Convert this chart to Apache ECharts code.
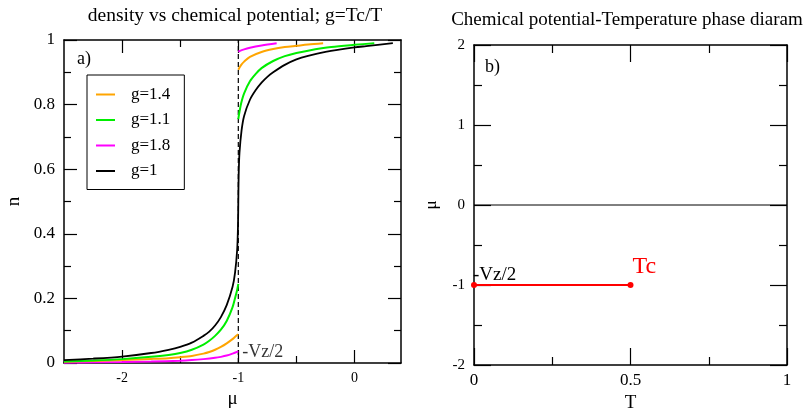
<!DOCTYPE html>
<html>
<head>
<meta charset="utf-8">
<script src="https://cdn.jsdelivr.net/npm/echarts@6/dist/echarts.min.js"></script>
<style>html,body{margin:0;padding:0;background:#fff}#c{width:810px;height:414px}</style>
</head>
<body>
<div id="c"></div>
<script>
// ---------- data: panel a) density n vs chemical potential mu ----------
var g1Mu  = [-2.5,-2.25,-2.0,-1.75,-1.6,-1.5,-1.4,-1.3,-1.25,-1.2,-1.15,-1.1,-1.05,-1.028,-1.01,-1.003,-1.0,
             -0.997,-0.99,-0.972,-0.95,-0.9,-0.85,-0.8,-0.75,-0.7,-0.6,-0.5,-0.4,-0.25,0.0,0.1,0.33];
var g1N   = [0.009,0.0136,0.02,0.031,0.041,0.05,0.063,0.084,0.097,0.116,0.142,0.179,0.235,0.28,0.35,0.42,0.5,
             0.58,0.65,0.72,0.765,0.815,0.845,0.868,0.886,0.9,0.923,0.94,0.951,0.963,0.977,0.981,0.99];

var g11LeftMu  = [-2.5,-2.25,-2.0,-1.75,-1.6,-1.5,-1.4,-1.3,-1.25,-1.2,-1.15,-1.1,-1.05,-1.025,-1.01,-1.0];
var g11LeftN   = [0.005,0.0078,0.012,0.019,0.025,0.031,0.041,0.057,0.069,0.084,0.103,0.13,0.172,0.205,0.226,0.245];
var g11RightMu = [-1.0,-0.99,-0.975,-0.95,-0.9,-0.85,-0.8,-0.7,-0.6,-0.5,-0.4,-0.2,0.0,0.17];
var g11RightN  = [0.755,0.778,0.805,0.835,0.872,0.895,0.913,0.935,0.95,0.96,0.967,0.978,0.985,0.99];

var g14LeftMu  = [-2.5,-2.25,-2.0,-1.75,-1.6,-1.5,-1.4,-1.3,-1.25,-1.2,-1.15,-1.1,-1.05,-1.025,-1.0];
var g14LeftN   = [0.004,0.006,0.009,0.0125,0.015,0.018,0.022,0.029,0.034,0.041,0.05,0.061,0.074,0.082,0.089];
var g14RightMu = [-1.0,-0.975,-0.95,-0.9,-0.8,-0.7,-0.6,-0.5,-0.4,-0.27];
var g14RightN  = [0.908,0.923,0.933,0.948,0.963,0.972,0.978,0.982,0.986,0.99];

var g18LeftMu  = [-2.5,-2.0,-1.75,-1.5,-1.4,-1.3,-1.2,-1.15,-1.1,-1.05,-1.0];
var g18LeftN   = [0.001,0.003,0.0045,0.007,0.009,0.012,0.016,0.019,0.023,0.029,0.036];
var g18RightMu = [-1.0,-0.95,-0.9,-0.8,-0.67];
var g18RightN  = [0.964,0.971,0.976,0.983,0.99];

var vzMu = -1;               // -Vz/2 position
var vzLineN = [0, 1];        // dashed line extent
var vzLabelN = 0.033;

var xMajorA = [-2, -1, 0];
var xMinorA = [-1.5, -0.5];

// ---------- data: panel b) phase diagram ----------
var zeroLineT = [0, 1];
var zeroLineMu = [0, 0];
var tcLineT = [0, 0.5];
var tcLineMu = [-1, -1];

var legendNames = ['g=1.4', 'g=1.1', 'g=1.8', 'g=1'];

function zip(a, b) { return a.map(function (v, i) { return [v, b[i]]; }); }

var FONT = 'Liberation Serif';
var BLACK = '#000';

function lineSeries(name, mu, n, color, w) {
  return {
    type: 'line', name: name, xAxisIndex: 0, yAxisIndex: 0,
    data: zip(mu, n), showSymbol: false, symbol: 'none',
    smooth: 0.3,
    lineStyle: { color: color, width: w }, itemStyle: { color: color },
    emphasis: { disabled: true }, silent: true, z: 3
  };
}

var axLine = { show: true, onZero: false, lineStyle: { color: BLACK, width: 1.5 } };
var noLine = { show: false, onZero: false };
var tk = { color: BLACK, width: 1.2 };

var chart = echarts.init(document.getElementById('c'), null, { renderer: 'canvas' });

var option = {
  animation: false,
  backgroundColor: '#fff',
  textStyle: { fontFamily: FONT, color: BLACK },
  title: [
    { text: 'density vs chemical potential; g=Tc/T', left: 230, top: 1, textAlign: 'center',
      textStyle: { fontFamily: FONT, fontSize: 19.5, fontWeight: 'normal', color: BLACK } },
    { text: 'Chemical potential-Temperature phase diaram', left: 622, top: 6, textAlign: 'center',
      textStyle: { fontFamily: FONT, fontSize: 19, fontWeight: 'normal', color: BLACK } }
  ],
  legend: {
    data: legendNames.map(function (n) { return { name: n, icon: 'rect' }; }),
    orient: 'vertical', left: 87, top: 75,
    itemWidth: 19, itemHeight: 2, itemGap: 8.5,
    padding: [11, 14, 10, 9],
    borderColor: BLACK, borderWidth: 1,
    textStyle: { fontFamily: FONT, fontSize: 17, color: BLACK, padding: [0, 0, 0, 11] },
    selectedMode: false
  },
  grid: [
    { left: 64, top: 40, width: 337, height: 323, containLabel: false, outerBoundsMode: 'none' },
    { left: 474, top: 45, width: 313, height: 320, containLabel: false, outerBoundsMode: 'none' }
  ],
  xAxis: [
    { type: 'value', gridIndex: 0, position: 'bottom', min: -2.5, max: 0.4,
      axisLine: axLine, splitLine: { show: false },
      axisTick: { show: true, inside: true, length: 13, customValues: xMajorA, lineStyle: tk },
      axisLabel: { show: true, customValues: xMajorA, margin: 8, fontFamily: FONT, fontSize: 14, color: BLACK },
      name: 'μ', nameLocation: 'middle', nameGap: 23,
      nameTextStyle: { fontFamily: FONT, fontSize: 19, color: BLACK } },
    { type: 'value', gridIndex: 0, position: 'bottom', min: -2.5, max: 0.4,
      axisLine: noLine, splitLine: { show: false },
      axisTick: { show: true, inside: true, length: 7, customValues: xMinorA, lineStyle: tk },
      axisLabel: { show: false } },
    { type: 'value', gridIndex: 0, position: 'top', min: -2.5, max: 0.4,
      axisLine: axLine, splitLine: { show: false },
      axisTick: { show: true, inside: true, length: 13, customValues: xMajorA, lineStyle: tk },
      axisLabel: { show: false } },
    { type: 'value', gridIndex: 0, position: 'top', min: -2.5, max: 0.4,
      axisLine: noLine, splitLine: { show: false },
      axisTick: { show: true, inside: true, length: 7, customValues: xMinorA, lineStyle: tk },
      axisLabel: { show: false } },
    { type: 'value', gridIndex: 1, position: 'bottom', min: 0, max: 1, interval: 0.5,
      axisLine: axLine, splitLine: { show: false },
      axisTick: { show: true, inside: true, length: 17, lineStyle: tk },
      minorTick: { show: true, splitNumber: 2, length: 8, lineStyle: tk },
      minorSplitLine: { show: false },
      axisLabel: { show: true, margin: 7, fontFamily: FONT, fontSize: 17, color: BLACK },
      name: 'T', nameLocation: 'middle', nameGap: 26,
      nameTextStyle: { fontFamily: FONT, fontSize: 19, color: BLACK } },
    { type: 'value', gridIndex: 1, position: 'top', min: 0, max: 1, interval: 0.5,
      axisLine: axLine, splitLine: { show: false },
      axisTick: { show: true, inside: true, length: 17, lineStyle: tk },
      minorTick: { show: true, splitNumber: 2, length: 8, lineStyle: tk },
      axisLabel: { show: false } }
  ],
  yAxis: [
    { type: 'value', gridIndex: 0, position: 'left', min: 0, max: 1, interval: 0.2,
      axisLine: axLine, splitLine: { show: false },
      axisTick: { show: true, inside: true, length: 13, lineStyle: tk },
      minorTick: { show: true, splitNumber: 2, length: 7, lineStyle: tk },
      axisLabel: { show: true, margin: 9, fontFamily: FONT, fontSize: 17, color: BLACK },
      name: 'n', nameLocation: 'middle', nameGap: 40, nameRotate: 90,
      nameTextStyle: { fontFamily: FONT, fontSize: 19, color: BLACK } },
    { type: 'value', gridIndex: 0, position: 'right', min: 0, max: 1, interval: 0.2,
      axisLine: axLine, splitLine: { show: false },
      axisTick: { show: true, inside: true, length: 13, lineStyle: tk },
      minorTick: { show: true, splitNumber: 2, length: 7, lineStyle: tk },
      axisLabel: { show: false } },
    { type: 'value', gridIndex: 1, position: 'left', min: -2, max: 2, interval: 1,
      axisLine: axLine, splitLine: { show: false },
      axisTick: { show: true, inside: true, length: 17, lineStyle: tk },
      minorTick: { show: true, splitNumber: 2, length: 8, lineStyle: tk },
      axisLabel: { show: true, margin: 9, fontFamily: FONT, fontSize: 15, color: BLACK },
      name: 'μ', nameLocation: 'middle', nameGap: 34, nameRotate: 90,
      nameTextStyle: { fontFamily: FONT, fontSize: 17, color: BLACK } },
    { type: 'value', gridIndex: 1, position: 'right', min: -2, max: 2, interval: 1,
      axisLine: axLine, splitLine: { show: false },
      axisTick: { show: true, inside: true, length: 17, lineStyle: tk },
      minorTick: { show: true, splitNumber: 2, length: 8, lineStyle: tk },
      axisLabel: { show: false } }
  ],
  graphic: [
    { type: 'text', left: 77, top: 50, style: { text: 'a)', fontFamily: FONT, fontSize: 18, fill: BLACK } },
    { type: 'text', left: 485, top: 58, style: { text: 'b)', fontFamily: FONT, fontSize: 18, fill: BLACK } }
  ],
  series: [
    // dashed -Vz/2 line
    { type: 'line', name: 'vz', xAxisIndex: 0, yAxisIndex: 0, silent: true, symbol: 'none',
      data: zip([vzMu, vzMu], vzLineN),
      lineStyle: { color: BLACK, width: 1.2, type: [5, 3] }, z: 2 },
    { type: 'scatter', name: 'vzlabel', xAxisIndex: 0, yAxisIndex: 0, silent: true,
      symbolSize: 0, data: [[vzMu, vzLabelN]],
      label: { show: true, position: 'right', distance: 4, formatter: '-Vz/2',
               fontFamily: FONT, fontSize: 18, color: BLACK } },
    lineSeries('g=1.8', g18LeftMu, g18LeftN, '#ff00ff', 2),
    lineSeries('g=1.8', g18RightMu, g18RightN, '#ff00ff', 2),
    lineSeries('g=1.4', g14LeftMu, g14LeftN, '#ffa500', 2),
    lineSeries('g=1.4', g14RightMu, g14RightN, '#ffa500', 2),
    lineSeries('g=1.1', g11LeftMu, g11LeftN, '#00ee00', 2),
    lineSeries('g=1.1', g11RightMu, g11RightN, '#00ee00', 2),
    lineSeries('g=1', g1Mu, g1N, '#000000', 1.8),
    // panel b
    { type: 'line', name: 'zero', xAxisIndex: 4, yAxisIndex: 2, silent: true, symbol: 'none',
      data: zip(zeroLineT, zeroLineMu), lineStyle: { color: BLACK, width: 1 } },
    { type: 'line', name: 'tc', xAxisIndex: 4, yAxisIndex: 2, silent: true,
      symbol: 'circle', symbolSize: 6, showSymbol: true,
      data: [
        { value: [tcLineT[0], tcLineMu[0]],
          label: { show: true, formatter: '-Vz/2', position: [2, -16], fontFamily: FONT, fontSize: 19, color: BLACK } },
        { value: [tcLineT[1], tcLineMu[1]],
          label: { show: true, formatter: 'Tc', position: [5, -27], fontFamily: FONT, fontSize: 24, color: '#ff0000' } }
      ],
      lineStyle: { color: '#ff0000', width: 2 }, itemStyle: { color: '#ff0000' }, z: 4 }
  ]
};
option.legend.data[3].itemStyle = { color: '#000' };
chart.setOption(option);
</script>
</body>
</html>
